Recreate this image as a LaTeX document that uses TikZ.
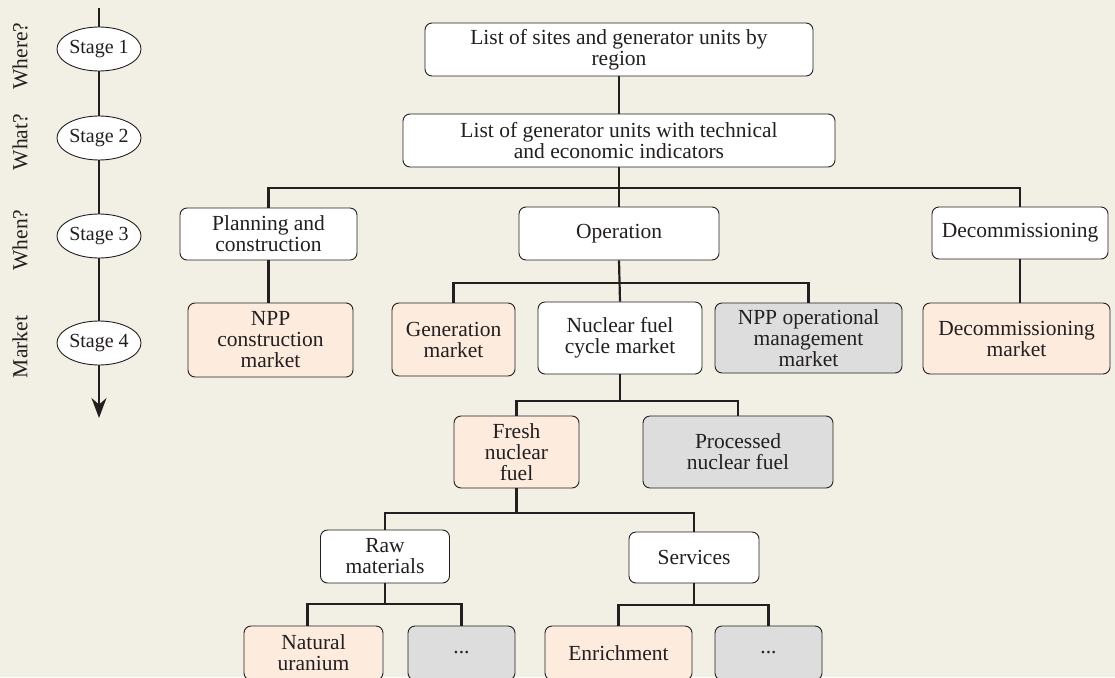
\documentclass[tikz,border=0pt]{standalone}
\usepackage{fontspec}
\setmainfont{Liberation Serif}
\usetikzlibrary{arrows.meta,shapes.geometric}
\definecolor{bg}{RGB}{242,239,228}
\definecolor{peach}{RGB}{253,235,222}
\definecolor{grayb}{RGB}{221,221,221}
\definecolor{ink}{RGB}{35,31,32}
\begin{document}
\begin{tikzpicture}[x=1pt,y=-1pt,
  box/.style={draw=ink, line width=0.9pt, rounded corners=7pt, align=center, text=ink,
    font=\fontsize{21.5}{21}\selectfont, inner sep=0pt},
  wbox/.style={box, fill=white},
  pbox/.style={box, fill=peach},
  gbox/.style={box, fill=grayb},
  conn/.style={draw=ink, line width=2.2pt},
  stage/.style={ellipse, draw=ink, line width=0.9pt, fill=white, minimum width=80pt,
    minimum height=44pt, inner sep=0pt, font=\fontsize{20}{20}\selectfont, text=ink},
  qlabel/.style={rotate=90, font=\fontsize{21.5}{21}\selectfont, text=ink, inner sep=0pt}]
\useasboundingbox (0,0) rectangle (1115,677);
\clip (0,0) rectangle (1115,677);
\fill[bg] (0,0) rectangle (1115,677);

% stage axis
\coordinate (atop) at (99,8);
\coordinate (abot) at (99,418);
\node[stage] (s1) at (99,49) {Stage 1};
\node[stage] (s2) at (99,138) {Stage 2};
\node[stage] (s3) at (99,236) {Stage 3};
\node[stage] (s4) at (99,343) {Stage 4};
\draw[conn, line width=2pt] (atop) -- (s1.north);
\draw[conn, line width=2pt] (s1.south) -- (s2.north);
\draw[conn, line width=2pt] (s2.south) -- (s3.north);
\draw[conn, line width=2pt] (s3.south) -- (s4.north);
\draw[conn, line width=2pt, -{Stealth[length=20pt,width=15pt]}] (s4.south) -- (abot);

\node[qlabel] (q1) at (20,56) {Where?};
\node[qlabel] (q2) at (20,142) {What?};
\node[qlabel] (q3) at (20,240) {When?};
\node[qlabel] (q4) at (20,347) {Market};

% boxes
\node[wbox, minimum width=388pt, minimum height=53pt] (top) at (619,49.5) {List of sites and generator units by\\region};
\node[wbox, minimum width=432pt, minimum height=53pt] (l2) at (619,140.5) {List of generator units with technical\\and economic indicators};
\node[wbox, minimum width=177pt, minimum height=52pt] (plan) at (268.5,234) {Planning and\\construction};
\node[wbox, minimum width=200pt, minimum height=53pt] (op) at (619,233.5) {Operation};
\node[wbox, minimum width=176pt, minimum height=52pt] (dec) at (1020,233) {Decommissioning};

\node[pbox, minimum width=165pt, minimum height=74pt] (npc) at (270.5,340) {NPP\\construction\\market};
\node[pbox, minimum width=123pt, minimum height=73pt] (gen) at (453.5,339.5) {Generation\\market};
\node[wbox, minimum width=164pt, minimum height=72pt] (nfc) at (620,338) {Nuclear fuel\\cycle market};
\node[gbox, minimum width=187pt, minimum height=70pt] (npo) at (808.5,338) {NPP operational\\management\\market};
\node[pbox, minimum width=187pt, minimum height=71pt] (dm) at (1016.5,338.5) {Decommissioning\\market};

\node[pbox, minimum width=125pt, minimum height=72pt] (fresh) at (516.5,452) {Fresh\\nuclear\\fuel};
\node[gbox, minimum width=190pt, minimum height=72pt] (proc) at (738,452) {Processed\\nuclear fuel};

\node[wbox, minimum width=129pt, minimum height=53pt] (raw) at (385,556.5) {Raw\\materials};
\node[wbox, minimum width=130pt, minimum height=51pt] (serv) at (694,557.5) {Services};

\node[pbox, minimum width=139pt, minimum height=54pt] (nu) at (313.5,653) {Natural\\uranium};
\node[gbox, minimum width=107pt, minimum height=54pt] (d1) at (461.5,653) {...};
\node[pbox, minimum width=147pt, minimum height=54pt] (enr) at (618.5,653) {Enrichment};
\node[gbox, minimum width=107pt, minimum height=54pt] (d2) at (768.5,653) {...};

% connectors
\coordinate (b1) at (619,188);
\coordinate (b2) at (619,283);
\coordinate (b3) at (620,401);
\coordinate (b4) at (516.5,513);
\coordinate (b5) at (385,604);
\coordinate (b6) at (694,605);

\draw[conn] (top.south) -- (l2.north);
\draw[conn] (l2.south) -- (op.north);
\draw[conn] (plan.north) |- (b1) -| (dec.north);
\draw[conn] (plan.south) -- (plan.south |- npc.north);
\draw[conn] (dec.south) -- (dec.south |- dm.north);
\draw[conn] (op.south) -- (nfc.north);
\draw[conn] (gen.north) |- (b2) -| (npo.north);
\draw[conn] (nfc.south) -- (b3);
\draw[conn] (fresh.north) |- (b3) -| (proc.north);
\draw[conn] (fresh.south) -- (b4);
\draw[conn] (raw.north) |- (b4) -| (serv.north);
\draw[conn] (raw.south) -- (b5);
\draw[conn] ([xshift=-6pt]nu.north) |- (b5) -| (d1.north);
\draw[conn] (serv.south) -- (b6);
\draw[conn] (enr.north) |- (b6) -| (d2.north);
\end{tikzpicture}
\end{document}
